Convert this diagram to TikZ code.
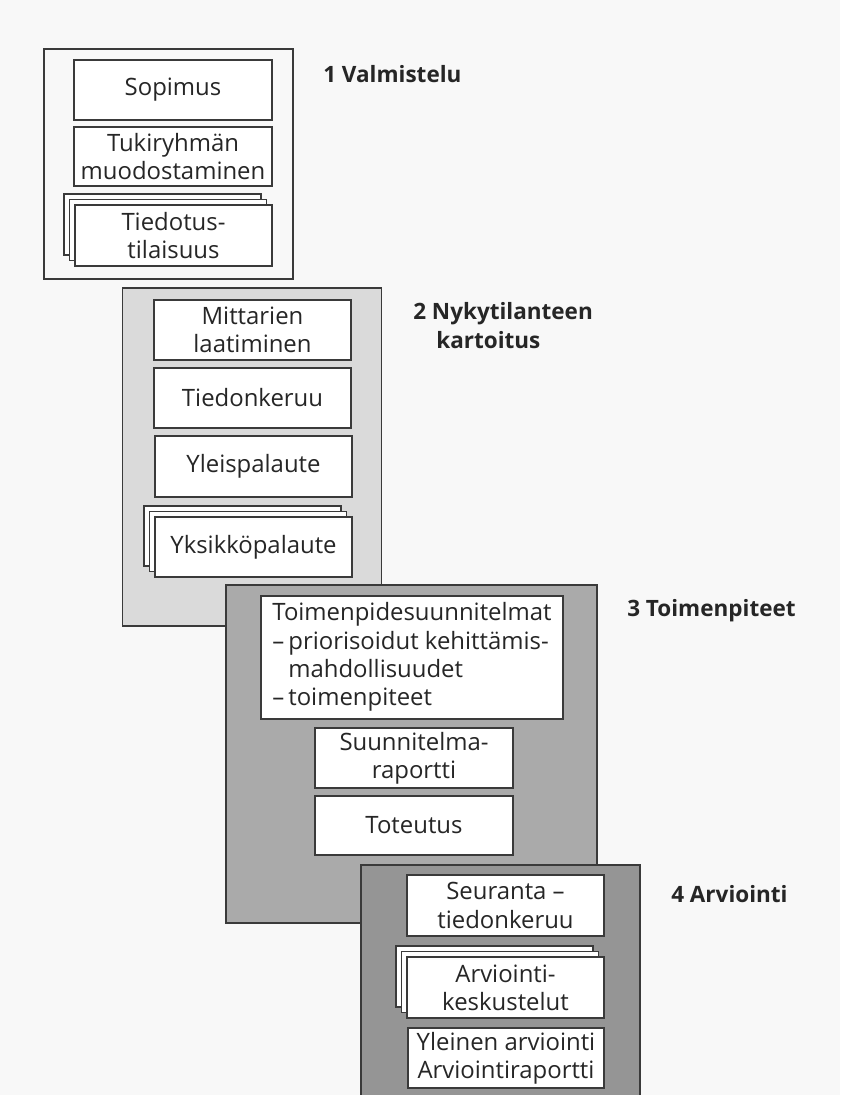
\documentclass[tikz,border=0pt]{standalone}
\usepackage{fontspec}
\setmainfont{Open Sans}
\definecolor{bgc}{HTML}{F8F8F8}
\definecolor{ink}{HTML}{262626}
\definecolor{edge}{HTML}{3A3A3A}
\definecolor{ptwo}{HTML}{DADADA}
\definecolor{pthree}{HTML}{AAAAAA}
\definecolor{pfour}{HTML}{959595}
\begin{document}
\begin{tikzpicture}[x=0.025cm,y=-0.025cm,
  wh/.style 2 args={minimum width=#1*0.025cm, minimum height=#2*0.025cm},
  panel/.style={draw=edge, line width=0.8pt, inner sep=0pt},
  box/.style={draw=edge, fill=white, line width=0.9pt, inner sep=0pt, align=center, text=ink,
    font=\fontsize{17}{20}\selectfont},
  sheet/.style={draw=edge, fill=white, line width=0.9pt, inner sep=0pt},
  title/.style={inner sep=0pt, text=ink, align=left, font=\fontsize{16}{20.6}\selectfont\bfseries}]
\clip (0,0) rectangle (840,1095);
\useasboundingbox (0,0) rectangle (840,1095);
\fill[bgc] (0,0) rectangle (840,1095);

% Panel 1
\node[panel, wh={249}{230}] (p1) at (168.5,164) {};
\node[box, wh={198}{60}] (sop) at (173,90) {Sopimus};
\node[box, wh={198}{59}] (tuki) at (173,156.5) {Tukiryhmän\\muodostaminen};
\node[sheet, wh={197}{61}] (tiedC) at (162.5,224.5) {};
\node[sheet, wh={197}{61}] (tiedB) at (168,230) {};
\node[box, wh={197}{61}] (tied) at (173.5,235.5) {Tiedotus-\\tilaisuus};
\node[title, anchor=base west] (t1) at (323,83) {1 Valmistelu};

% Panel 2
\node[panel, fill=ptwo, wh={259}{338}] (p2) at (252.2,457) {};
\node[box, wh={197}{60}] (mitt) at (252.5,330) {Mittarien\\laatiminen};
\node[box, wh={197}{60}] (tiedon) at (252.5,398) {Tiedonkeruu};
\node[box, wh={197}{61}] (yleis) at (253.5,466.5) {Yleispalaute};
\node[sheet, wh={197}{60}] (yksC) at (242.5,536) {};
\node[sheet, wh={197}{60}] (yksB) at (248,541.5) {};
\node[box, wh={197}{60}] (yks) at (253.5,547) {Yksikköpalaute};
\node[title, anchor=west] (t2) at (413,326) {2 Nykytilanteen\\\hspace*{16.4pt}kartoitus};

% Panel 3
\node[panel, fill=pthree, wh={371}{338}] (p3) at (411.5,754) {};
\node[box, wh={302}{123}] (toim) at (412,657.5) {\begin{tabular}{@{}l@{}}Toimenpidesuunnitelmat\\–\,priorisoidut kehittämis-\\\hphantom{–\,}mahdollisuudet\\–\,toimenpiteet\end{tabular}};
\node[box, wh={198}{60}] (suun) at (414,758) {Suunnitelma-\\raportti};
\node[box, wh={198}{59}] (tot) at (414,825.5) {Toteutus};
\node[title, anchor=base west] (t3) at (627,616) {3 Toimenpiteet};

% Panel 4
\node[panel, fill=pfour, wh={279}{245}] (p4) at (500.5,987.5) {};
\node[box, wh={197}{61}] (seur) at (505.5,905.5) {Seuranta –\\tiedonkeruu};
\node[sheet, wh={197}{61}] (arvC) at (494.5,976.5) {};
\node[sheet, wh={197}{61}] (arvB) at (500,982) {};
\node[box, wh={197}{61}] (arv) at (505.5,987.5) {Arviointi-\\keskustelut};
\node[box, wh={196}{60}] (yle) at (506,1058) {Yleinen arviointi\\Arviointiraportti};
\node[title, anchor=base west] (t4) at (671,902) {4 Arviointi};
\end{tikzpicture}
\end{document}
